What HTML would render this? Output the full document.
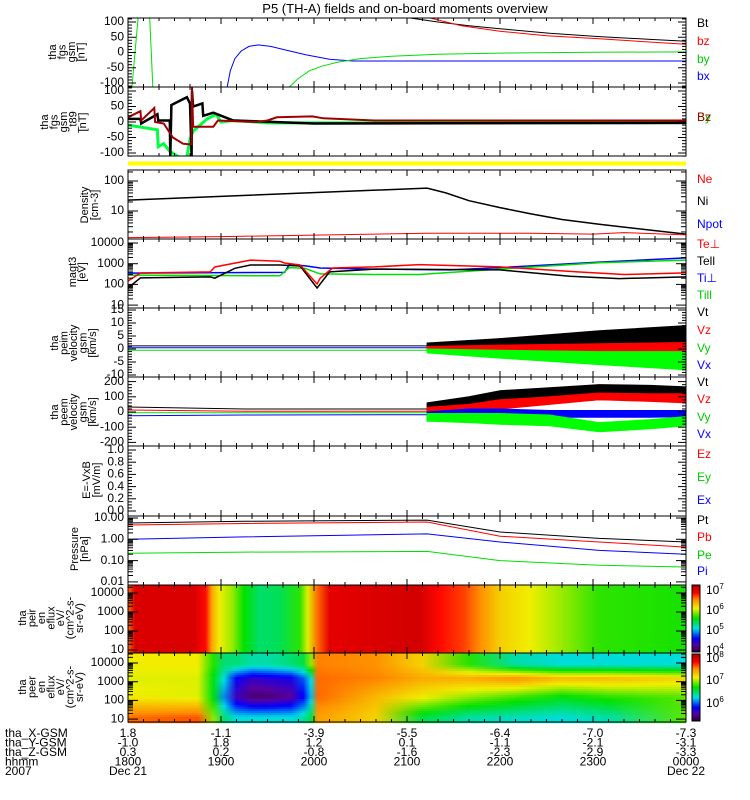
<!DOCTYPE html>
<html><head><meta charset="utf-8"><title>P5 (TH-A) overview</title>
<style>
html,body{margin:0;padding:0;background:#fff;}
svg{display:block;font-family:"Liberation Sans",sans-serif;}
</style></head>
<body>
<svg id="chart" width="750" height="800" viewBox="0 0 750 800" xmlns="http://www.w3.org/2000/svg">
<text x="405" y="13" font-size="13" text-anchor="middle">P5 (TH-A) fields and on-board moments overview</text>
<g id="layer-spec"></g>
<g id="layer-data"></g>
<g id="layer-axes"></g>
<g id="layer-text"></g>
</svg>
<script>
// ===== data (times in minutes after 18:00 UT) =====
// panel 1: fgs gsm
const bxT=[64,66,69,73,78,84,92,102,115,130,145,360]; const bxV=[-113,-60,-20,5,20,25,20,8,-8,-22,-28,-28];
const by1T=[2.6,4.5,6.5,14,15,16]; const by1V=[-113,0,113,113,0,-113];
const by2T=[104,110,117,125,135,150,170,200,240,300,360]; const by2V=[-113,-85,-60,-45,-32,-20,-12,-6,-2,1,2];
const btT=[182,200,220,240,272,304,337,360]; const btV=[113,100,88,78,63,52,43,37];
const bzT=[195,215,240,270,304,360]; const bzV=[113,88,70,55,45,27];
// panel 2: fgs gsm - t89
const dBlkT=[0,8,8.5,19,19.5,27,27.3,28,38,40,41,41.3,42,48,48.5,55,68,120,360];
const dBlkV=[10,10,-5,25,5,5,-113,55,80,60,-113,100,50,60,20,30,5,-5,-3];
const dRedT=[0,8,8.5,17,17.5,23,29,35.5,39,41,41.3,42,55,58,68,83,90,96,119,126,159,360];
const dRedV=[15,35,5,45,0,-5,-50,-70,-72,-72,113,-15,-15,5,3,0,5,15,18,12,5,5];
const dGrnT=[0,19,19.5,23,27,33,38,40,42,51,57,60,68,90,360];
const dGrnV=[-10,-25,-80,-70,-95,-113,-113,-55,-30,10,25,0,5,-3,-2];
// panel 3: density
const niT=[0,193,205,220,240,260,280,304,337,360]; const niV=[23,58,40,22,13,8,5.2,3.6,2.3,1.7];
const neT=[0,60,193,260,300,320,360]; const neV=[1.3,1.4,1.8,1.8,1.7,1.9,1.6];
// panel 4: temperatures
const tepT=[0,8,53,56,79,98,101,111,122,124,132,159,188,240,290,320,360];
const tepV=[146,355,400,690,1500,1300,1080,870,105,200,620,700,900,700,400,300,360];
const tepaT=[0,8,53,56,69,79,98,111,122,130,159,240,285,317,360];
const tepaV=[67,205,230,200,600,870,870,770,67,400,550,500,250,190,230];
const tipT=[0,101,104,114,124,159,208,240,304,360]; const tipV=[350,380,900,800,620,550,500,650,1200,1900];
const tipaT=[0,53,98,104,114,124,159,188,240,304,360]; const tipaV=[280,270,260,650,600,320,300,300,550,1100,1500];
// panel 5: peim velocity
const vi0T=[0,193]; const viBlk0=[1.2,1.2]; const viBlu0=[0.5,0.5]; const viGrn0=[-0.5,-0.5];
const viT=[193,240,304,360];
const viBlkTop=[2.3,4,7,9]; const viBlkBot=[0,0,0,0];
const viRedTop=[1.0,1.5,2,2.5]; const viRedBot=[-1,-1.5,-2,-3];
const viGrnTop=[0,-0.5,-1,-1]; const viGrnBot=[-1.5,-3.5,-6,-8];
// panel 6: peem velocity
const ve0T=[0,75,193]; const veBlk0=[33,20,20]; const veRed0=[13,5,5]; const veGrn0=[-5,-5,-5]; const veBlu0=[-25,-20,-18];
const veT=[193,220,240,272,304,337,360];
const veBlkTop=[60,100,140,160,180,175,165]; const veBlkBot=[0,20,40,60,80,80,70];
const veRedTop=[30,50,80,100,125,120,120]; const veRedBot=[-10,10,20,50,80,70,60];
const veBluTop=[0,20,20,10,10,10,10]; const veBluBot=[-60,-40,-40,-35,-35,-35,-30];
const veGrnTop=[-10,-10,-10,-20,-70,-50,-30]; const veGrnBot=[-60,-70,-80,-90,-130,-110,-90];
// panel 8: pressure
const prT=[0,75,193,240,304,360];
const ptV=[5.8,7,8,2.2,1.1,0.75]; const pbV=[4.7,5.5,6.5,1.4,0.75,0.43];
const pblV=[1.0,1.3,1.8,0.75,0.3,0.2]; const pgV=[0.22,0.25,0.27,0.1,0.06,0.05];
// panel 9: ion energy flux (log10)
const ionT=[0,4.5,43,50,54,59,67,75,85,98,111,116,122.5,130,188,201,217,227,240,259,279,304,360];
const ionV=[6.6,7.05,7.05,6.85,6.4,6.05,5.85,5.5,5.25,5.3,5.6,6.0,6.6,7.0,7.1,6.85,6.7,6.5,6.2,6.05,5.85,5.6,5.55];
// panel 10: electron energy flux (log10), rows at energies
const eT=[0,45,55,62,70,80,90,105,113,118,122.5,160,190,220,250,280,310,360];
const eRowE=[8000,1500,150,12];
const eRowA=[7.1,7.1,6.7,6.4,6.4,6.3,6.3,6.4,6.5,6.9,7.5,7.45,7.2,6.7,6.3,6.2,6.2,6.2];
const eRowB=[7.05,7.05,6.6,6.2,5.7,5.55,5.6,5.65,5.9,6.2,7.55,7.5,7.35,7.35,7.45,7.3,7.3,7.2];
const eRowC=[7.1,7.05,6.6,6.0,5.5,5.3,5.3,5.4,5.7,6.1,7.55,7.3,7.1,6.9,6.75,6.6,6.7,6.8];
const eRowD=[7.55,7.6,6.9,6.4,6.2,6.2,6.2,6.2,6.3,6.5,7.4,7.2,6.5,6.3,6.25,6.2,6.3,6.8];
// bottom annotation
const hhmm=["1800","1900","2000","2100","2200","2300","0000"];
const xGsm=["1.8","-1.1","-3.9","-5.5","-6.4","-7.0","-7.3"];
const yGsm=["-1.0","1.8","1.2","0.1","-1.1","-2.1","-3.1"];
const zGsm=["0.3","0.2","-0.8","-1.6","-2.3","-2.9","-3.3"];

// ===== helpers =====
const NS="http://www.w3.org/2000/svg";
const X0=128,X1=686;
function xs(m){return X0+m/360*(X1-X0);}
function mk(parent,tag,attrs){const e=document.createElementNS(NS,tag);for(const k in attrs)e.setAttribute(k,attrs[k]);parent.appendChild(e);return e;}
const gSpec=document.getElementById('layer-spec'),gData=document.getElementById('layer-data'),gAx=document.getElementById('layer-axes'),gTx=document.getElementById('layer-text');
const svg=document.getElementById('chart');
const defs=mk(svg,'defs',{});
const lin=(c0,k)=>v=>c0-v*k;
const lg=(c0,k,ref)=>v=>c0-(Math.log10(v)-ref)*k;
const panels=[
 {top:18,bot:87,y:lin(52.5,0.305)},
 {top:87,bot:156,y:lin(122,0.31)},
 {top:170,bot:239,y:lg(211,30,1)},
 {top:239,bot:308,y:lg(243,20.7,4)},
 {top:308,bot:377,y:lin(349,2.6)},
 {top:377,bot:446,y:lin(412,0.152)},
 {top:446,bot:516,y:lin(511,61)},
 {top:516,bot:585,y:lg(518,21.3,1)},
 {top:585,bot:653,y:lg(593,19,4)},
 {top:653,bot:722,y:lg(663,18.7,4)}
];
panels.forEach((p,i)=>{const c=mk(defs,'clipPath',{id:'clip'+i});mk(c,'rect',{x:X0,y:p.top,width:X1-X0,height:p.bot-p.top});});
function line(pi,T,V,color,name,w){
 const p=panels[pi];const pts=T.map((t,i)=>xs(t).toFixed(1)+','+p.y(V[i]).toFixed(1)).join(' ');
 const e=mk(gData,'polyline',{points:pts,fill:'none',stroke:color,'stroke-width':w||1,'clip-path':'url(#clip'+pi+')'});
 
 
}
function band(pi,T,Top,Bot,color,name){
 const p=panels[pi];const a=T.map((t,i)=>xs(t).toFixed(1)+','+p.y(Top[i]).toFixed(1));
 const b=T.map((t,i)=>xs(t).toFixed(1)+','+p.y(Bot[i]).toFixed(1)).reverse();
 const e=mk(gData,'polygon',{points:a.concat(b).join(' '),fill:color,stroke:color,'stroke-width':1,'clip-path':'url(#clip'+pi+')'});
 
 
}
// colormap (fraction 0..1)
const cmS=[[0,[40,0,50]],[0.1,[90,0,160]],[0.2,[0,0,255]],[0.35,[0,220,230]],[0.5,[0,225,0]],[0.65,[240,240,0]],[0.78,[255,140,0]],[0.88,[255,0,0]],[1,[170,0,0]]];
function cmap(f){f=Math.max(0,Math.min(1,f));for(let i=1;i<cmS.length;i++){if(f<=cmS[i][0]){const a=cmS[i-1],b=cmS[i];const u=(f-a[0])/(b[0]-a[0]);const c=a[1].map((v,k)=>Math.round(v+(b[1][k]-v)*u));return 'rgb('+c.join(',')+')';}}return 'rgb(170,0,0)';}
let gid=0;
function gradRect(T,V,lo,hi,y0,h,name){
 const id='g'+(gid++);const g=mk(defs,'linearGradient',{id:id,gradientUnits:'userSpaceOnUse',x1:X0,x2:X1,y1:0,y2:0});
 T.forEach((t,i)=>mk(g,'stop',{offset:(t/360).toFixed(4),'stop-color':cmap((V[i]-lo)/(hi-lo))}));
 const r=mk(gSpec,'rect',{x:X0,y:y0,width:X1-X0,height:h,fill:'url(#'+id+')'});
 
 
}

// ===== panel 1 =====
line(0,bxT,bxV,'#0000ff','bx-line');
line(0,by1T,by1V,'#00e000','by-line-early');
line(0,by2T,by2V,'#00e000','by-line');
line(0,btT,btV,'#000000','bt-line');
line(0,bzT,bzV,'#ff0000','bz-line');
// ===== panel 2 =====
line(1,dGrnT,dGrnV,'#00ff40','dby-line',3);
line(1,dBlkT,dBlkV,'#000000','dbt-line',2.5);
line(1,dRedT,dRedV,'#a00000','dbz-line',2);
{const e=mk(gData,'rect',{x:X0,y:161.5,width:X1-X0,height:4,fill:'#ffff00'});

}
// ===== panel 3 =====
line(2,niT,niV,'#000000','ni-line',1.5);
line(2,neT,neV,'#ff0000','ne-line');
// ===== panel 4 =====
line(3,tipT,tipV,'#0000ff','ti-perp-line',1.5);
line(3,tipaT,tipaV,'#00e000','ti-par-line',1.5);
line(3,tepaT,tepaV,'#000000','te-par-line',1.5);
line(3,tepT,tepV,'#ff0000','te-perp-line',1.5);
// ===== panel 5 =====
line(4,vi0T,viBlk0,'#000000','vit-line');
line(4,vi0T,viBlu0,'#0000ff','vix-line');
line(4,vi0T,viGrn0,'#00e000','viy-line');
band(4,viT,viBlkTop,viBlkBot,'#000000','vit-band');
band(4,viT,viRedTop,viRedBot,'#ff0000','viz-band');
band(4,viT,viGrnTop,viGrnBot,'#00ff00','viy-band');
// ===== panel 6 =====
line(5,ve0T,veBlk0,'#000000','vet-line');
line(5,ve0T,veRed0,'#ff0000','vez-line');
line(5,ve0T,veGrn0,'#00e000','vey-line');
line(5,ve0T,veBlu0,'#0000ff','vex-line');
band(5,veT,veBlkTop,veBlkBot,'#000000','vet-band');
band(5,veT,veRedTop,veRedBot,'#ff0000','vez-band');
band(5,veT,veBluTop,veBluBot,'#0000ff','vex-band');
band(5,veT,veGrnTop,veGrnBot,'#00ff00','vey-band');
// ===== panel 8 =====
line(7,prT,ptV,'#000000','pt-line');
line(7,prT,pbV,'#ff0000','pb-line');
line(7,prT,pblV,'#0000ff','pi-line');
line(7,prT,pgV,'#00e000','pe-line');
// ===== panel 9: ion spectrogram =====
gradRect(ionT,ionV,3.7,7.3,585,68,'ion-spectrogram');
// ===== panel 10: electron spectrogram =====
{const rows=[eRowA,eRowB,eRowC,eRowD];const p=panels[9];
 const ry=eRowE.map(E=>p.y(E));
 for(let y=653;y<722;y+=2){
  const yc=y+1;let V;
  if(yc<=ry[0])V=rows[0];else if(yc>=ry[3])V=rows[3];else{
   let k=0;while(yc>ry[k+1])k++;const u=(yc-ry[k])/(ry[k+1]-ry[k]);V=rows[k].map((v,i)=>v+(rows[k+1][i]-v)*u);}
  gradRect(eT,V,5.12,8.14,y,2.2,'electron-spectrogram-strip');
 }}
// colorbars
function cbar(y0,h,name){const id='cb'+(gid++);const g=mk(defs,'linearGradient',{id:id,x1:0,x2:0,y1:1,y2:0});
 cmS.forEach(s=>mk(g,'stop',{offset:s[0],'stop-color':'rgb('+s[1].join(',')+')'}));
 const r=mk(gAx,'rect',{x:692,y:y0,width:8,height:h,fill:'url(#'+id+')',stroke:'#000','stroke-width':1});
 
 }
cbar(585,67,'ion-colorbar');cbar(654,67,'electron-colorbar');
[['7',590],['6',610],['5',630],['4',650]].forEach(a=>{const t=mk(gTx,'text',{x:706,y:a[1]+4,'font-size':12});t.textContent='10';const s=mk(t,'tspan',{dy:-5,'font-size':8});s.textContent=a[0];});
[['8',658],['7',680],['6',703]].forEach(a=>{const t=mk(gTx,'text',{x:706,y:a[1]+4,'font-size':12});t.textContent='10';const s=mk(t,'tspan',{dy:-5,'font-size':8});s.textContent=a[0];});

// ===== axes =====
function tk(x1,y1,x2,y2){mk(gAx,'line',{x1:x1,y1:y1,x2:x2,y2:y2,stroke:'#000','stroke-width':1});}
function tl(x,y,s,anchor){const t=mk(gTx,'text',{x:x,y:y,'font-size':12,'text-anchor':anchor||'end','dominant-baseline':'middle'});t.textContent=s;return t;}
panels.forEach((p,i)=>{
 const r=mk(gAx,'rect',{x:X0,y:p.top,width:X1-X0,height:p.bot-p.top,fill:'none',stroke:'#000','stroke-width':1});
 
 
 for(let m=0;m<=360;m+=10){const L=(m%60===0)?6:3;tk(xs(m),p.top,xs(m),p.top+L);tk(xs(m),p.bot,xs(m),p.bot-L);}
});
function linTicks(pi,minor,major,lo,hi,labels){const p=panels[pi];
 for(let v=lo;v<=hi+1e-9;v+=minor){const y=p.y(v);if(y<p.top-0.5||y>p.bot+0.5)continue;const isM=Math.abs(v/major-Math.round(v/major))<1e-6;const L=isM?8:4;tk(X0,y,X0+L,y);tk(X1,y,X1-L,y);}
 labels.forEach(v=>tl(124,p.y(parseFloat(v)),v));}
function logTicks(pi,d0,d1,labels){const p=panels[pi];
 for(let d=d0;d<=d1;d++)for(let k=1;k<10;k++){const y=p.y(k*Math.pow(10,d));if(y<p.top-0.5||y>p.bot+0.5)continue;const L=k===1?10:5;tk(X0,y,X0+L,y);tk(X1,y,X1-L,y);}
 labels.forEach(v=>tl(124,p.y(parseFloat(v)),v));}
linTicks(0,10,50,-110,110,['100','50','0','-50','-100']);
linTicks(1,10,50,-110,110,['100','50','0','-50','-100']);
logTicks(2,0,2,['100','10']);
logTicks(3,1,4,['10000','1000','100','10']);
linTicks(4,1,5,-10,15,['15','10','5','0','-5','-10']);
linTicks(5,20,100,-200,200,['200','100','0','-100','-200']);
linTicks(6,0.05,0.2,0,1,['1.0','0.8','0.6','0.4','0.2','0.0']);
logTicks(7,-2,1,['10.00','1.00','0.10','0.01']);
logTicks(8,1,4,['10000','1000','100','10']);
logTicks(9,1,4,['10000','1000','100','10']);

// ===== y titles (rotated, multi-line) =====
function ytitle(lines,x0,dx,cy,name){const g=mk(gTx,'g',{});
 lines.forEach((s,i)=>{const x=x0+i*dx;const t=mk(g,'text',{x:x,y:cy,'font-size':11,'text-anchor':'middle',transform:'rotate(-90 '+x+' '+cy+')'});t.textContent=s;});}
ytitle(['tha','fgs','gsm','[nT]'],56,9.5,52,'y-title-fgs');
ytitle(['tha','fgs','gsm','_t89','[nT]'],48,9.5,122,'y-title-fgs-t89');
ytitle(['Density','[cm-3]'],88,10,205,'y-title-density');
ytitle(['magt3','[eV]'],76,9.5,272,'y-title-temperature');
ytitle(['tha','peim','velocity','gsm','[km/s]'],58,9.5,343,'y-title-peim-velocity');
ytitle(['tha','peem','velocity','gsm','[km/s]'],58,9.5,412,'y-title-peem-velocity');
ytitle(['E=-VxB','[mV/m]'],90,10,480,'y-title-efield');
ytitle(['Pressure','[nPa]'],78,10,549,'y-title-pressure');
ytitle(['tha','peir','en','eflux','eV/','(cm^2-s-','sr-eV)'],26,9.5,618,'y-title-ion-eflux');
ytitle(['tha','peer','en','eflux','eV/','(cm^2-s-','sr-eV)'],26,9.5,687,'y-title-electron-eflux');

// ===== right legends =====
function leg(s,y,c){const t=mk(gTx,'text',{x:697,y:y,'font-size':12,fill:c,'dominant-baseline':'middle'});t.textContent=s;
 
 }
[['Bt',24,'#000'],['bz',42,'#f00'],['by',60,'#0c0'],['bx',77,'#00f']].forEach(a=>leg(...a));
leg('By',118,'#0c0');leg('Bz',118,'#a00000');
[['Ne',180,'#f00'],['Ni',202,'#000'],['Npot',225,'#00f']].forEach(a=>leg(...a));
[['Te⊥',245,'#f00'],['Tell',262,'#000'],['Ti⊥',279,'#00f'],['Till',296,'#0c0']].forEach(a=>leg(...a));
[['Vt',313,'#000'],['Vz',331,'#f00'],['Vy',349,'#0c0'],['Vx',366,'#00f']].forEach(a=>leg(...a));
[['Vt',383,'#000'],['Vz',400,'#f00'],['Vy',418,'#0c0'],['Vx',435,'#00f']].forEach(a=>leg(...a));
[['Ez',455,'#f00'],['Ey',478,'#0c0'],['Ex',501,'#00f']].forEach(a=>leg(...a));
[['Pt',521,'#000'],['Pb',538,'#f00'],['Pe',556,'#0c0'],['Pi',572,'#00f']].forEach(a=>leg(...a));

// ===== bottom annotation =====
const rowsB=[['tha_X-GSM',xGsm],['tha_Y-GSM',yGsm],['tha_Z-GSM',zGsm],['hhmm',hhmm]];
rowsB.forEach((r,i)=>{const y=734+i*9.5;tl(5,y,r[0],'start');r[1].forEach((s,j)=>tl(xs(j*60),y,s,'middle'));});
tl(5,772,'2007','start');tl(xs(0),772,'Dec 21','middle');tl(xs(360),772,'Dec 22','middle');
</script>
</body></html>
